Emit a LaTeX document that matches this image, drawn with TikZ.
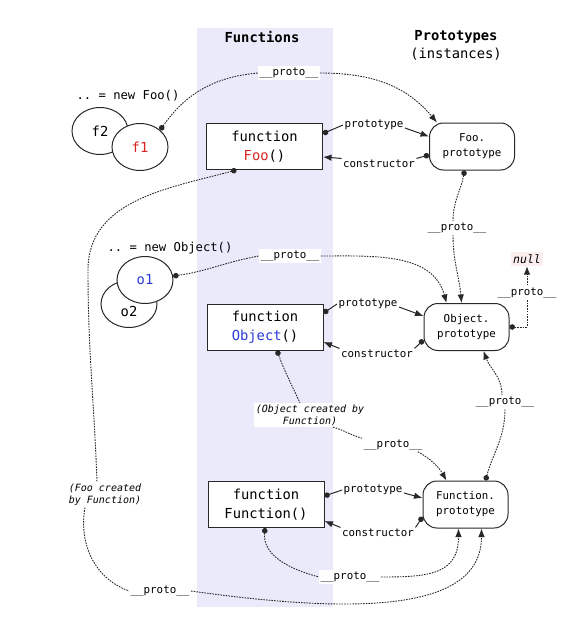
\documentclass[tikz,border=0pt]{standalone}
\usepackage{fontspec}
\setmonofont{DejaVu Sans Mono}
\usepackage{xcolor}
\usetikzlibrary{shapes.geometric,arrows.meta,positioning,calc}

\definecolor{bandblue}{RGB}{234,234,250}
\definecolor{foored}{RGB}{215,35,35}
\definecolor{objblue}{RGB}{40,60,215}
\definecolor{nullbg}{RGB}{252,238,238}
\definecolor{ink}{RGB}{40,40,40}

\begin{document}
\begin{tikzpicture}[
  x=1pt, y=-1pt,
  fnbox/.style={rectangle, draw=ink, line width=1pt, fill=white, minimum width=116pt,
                minimum height=46pt, inner sep=0pt, align=center,
                font=\ttfamily\fontsize{13.8}{19}\selectfont},
  protobox/.style={rectangle, draw=ink, line width=1pt, rounded corners=14pt, fill=white,
                minimum width=85pt, minimum height=47pt, inner sep=0pt, align=center,
                font=\ttfamily\fontsize{10.8}{15}\selectfont},
  inst/.style={ellipse, draw=ink, line width=1pt, fill=white, minimum width=56pt,
                minimum height=47pt, inner sep=0pt, font=\ttfamily\fontsize{13.8}{19}\selectfont},
  lbl/.style={fill=white, inner sep=1.5pt, font=\ttfamily\fontsize{10.8}{13}\selectfont},
  caption/.style={inner sep=1pt, font=\ttfamily\fontsize{12.2}{14}\selectfont},
  remark/.style={fill=white, inner sep=1.5pt, align=center,
                font=\ttfamily\itshape\fontsize{10}{12}\selectfont},
  title/.style={align=center, font=\ttfamily\fontsize{13.8}{18}\selectfont},
  nullbox/.style={fill=nullbg, inner sep=2.5pt, font=\ttfamily\itshape\fontsize{11.5}{13}\selectfont},
  solidlink/.style={draw=ink, line width=1pt},
  dotlink/.style={draw=ink, line width=0.9pt, dash pattern=on 1.6pt off 1.1pt},
  fromdot/.style={{Circle[length=5.5pt]}-},
  totip/.style={-{Latex[length=8.5pt,width=6.5pt]}},
  dottip/.style={{Circle[length=5.5pt]}-{Latex[length=8.5pt,width=6.5pt]}}
]
  \useasboundingbox (0,0) rectangle (561,618);
  % functions column
  \fill[bandblue] (197,28) rectangle (333,607);

  \node[title] (hfun)   at (262,37) {\textbf{Functions}};
  \node[title] (hproto) at (456,45) {\textbf{Prototypes}\\(instances)};

  % instances
  \node[caption] (newfoo) at (128,96) {.. = new Foo()};
  \node[inst] (f2) at (100,131) {f2};
  \node[inst, text=foored] (f1) at (140,147) {f1};

  \node[caption] (newobj) at (170,248) {.. = new Object()};
  \node[inst, text height=25pt] (o2) at (129,304) {o2};
  \node[inst, text=objblue] (o1) at (145,280) {o1};

  % constructors and their prototypes
  \node[fnbox] (fnfoo) at (264.5,146.5) {function\\\textcolor{foored}{Foo}()};
  \node[fnbox] (fnobj) at (265,327)     {function\\\textcolor{objblue}{Object}()};
  \node[fnbox] (fnfun) at (266,504.5)   {function\\Function()};

  \node[protobox, right=106pt of fnfoo] (fooproto) {Foo.\\prototype};
  \node[protobox, right=100pt of fnobj] (objproto) {Object.\\prototype};
  \node[protobox, right=98pt of fnfun]  (funproto) {Function.\\prototype};

  \node[lbl] (ptfoo) at (374,125) {prototype};
  \node[lbl] (ctfoo) at (379,164) {constructor};
  \node[lbl] (ptobj) at (368,304) {prototype};
  \node[lbl] (ctobj) at (377,354) {constructor};
  \node[lbl] (ptfun) at (373,490) {prototype};
  \node[lbl] (ctfun) at (378,533) {constructor};

  \draw[solidlink, fromdot] ([yshift=13pt]fnfoo.east) -- (ptfoo.west);
  \draw[solidlink, totip]   ([yshift=-3pt]ptfoo.east) -- ([yshift=10pt]fooproto.west);
  \draw[solidlink, fromdot] ([yshift=-8.5pt]fooproto.west) -- (ctfoo.north east);
  \draw[solidlink, totip]   (ctfoo.north west) -- ([yshift=-10.5pt]fnfoo.east);

  \draw[solidlink, fromdot] ([yshift=14pt]fnobj.east) -- (ptobj.west);
  \draw[solidlink, totip]   ([yshift=-3pt]ptobj.east) -- ([yshift=11pt]objproto.west);
  \draw[solidlink, fromdot] ([yshift=-13pt]objproto.west) -- (ctobj.north east);
  \draw[solidlink, totip]   (ctobj.north west) -- ([yshift=-15pt]fnobj.east);

  \draw[solidlink, fromdot] ([yshift=8.5pt]fnfun.east) -- (ptfun.west);
  \draw[solidlink, totip]   ([yshift=-3pt]ptfun.east) -- ([yshift=6.5pt]funproto.west);
  \draw[solidlink, fromdot] ([yshift=-12.5pt]funproto.west) -- (ctfun.north east);
  \draw[solidlink, totip]   (ctfun.north west) -- ([yshift=-16.5pt]fnfun.east);

  % __proto__ chains
  \node[lbl] (pfoo)    at (289,73)  {\_\_proto\_\_};
  \node[lbl] (pfooobj) at (457,228) {\_\_proto\_\_};
  \node[lbl] (pobj)    at (290,256) {\_\_proto\_\_};
  \node[lbl] (pobjfun) at (393,445) {\_\_proto\_\_};
  \node[lbl] (pfunobj) at (505,402) {\_\_proto\_\_};
  \node[lbl] (pfunfun) at (350,577) {\_\_proto\_\_};
  \node[lbl] (pfoofun) at (160,591) {\_\_proto\_\_};
  \node[nullbox] (null) at (527,259) {null};
  \node[remark] (objnote) at (310,415) {(Object created by\\Function)};
  \node[remark] (foonote) at (105,495) {(Foo created\\by Function)};
  \coordinate (foobend) at (88,270);

  \draw[dotlink, fromdot] (f1.40) to[out=55,in=185] (pfoo.west);
  \draw[dotlink, totip] (pfoo.east) to[out=0,in=130] ([xshift=8pt]fooproto.north west);

  \draw[dotlink, fromdot] ([xshift=-7.5pt]fooproto.south) to[out=-100,in=90] ([xshift=-4pt]pfooobj.north);
  \draw[dotlink, totip] ([xshift=-4pt]pfooobj.south) to[out=-90,in=95] ([xshift=-5pt]objproto.north);

  \draw[dotlink, fromdot] (o1.8) to[out=8,in=190] (pobj.west);
  \draw[dotlink, totip] (pobj.east) to[out=0,in=105] ([xshift=-20pt]objproto.north);

  \draw[dotlink, dottip] (objproto.east) -| node[lbl, pos=0.78] (pnull) {\_\_proto\_\_} (null.south);

  \draw[dotlink, fromdot] ([xshift=12pt]fnobj.south) to[out=-70,in=115] ([xshift=-10pt]objnote.north);
  \draw[dotlink] ([xshift=23pt]objnote.south) to[out=-15,in=165] (pobjfun.north west);
  \draw[dotlink, totip] ([xshift=-6pt]pobjfun.south east) to[out=-30,in=120] ([xshift=-19pt]funproto.north);

  \draw[dotlink, fromdot] ([xshift=20pt]funproto.north) to[out=75,in=-90] (pfunobj.south);
  \draw[dotlink, totip] ([xshift=-3pt]pfunobj.north) to[out=90,in=-70] ([xshift=17pt]objproto.south);

  \draw[dotlink, fromdot] ([xshift=-1pt]fnfun.south) to[out=-95,in=165] (pfunfun.west);
  \draw[dotlink, totip] (pfunfun.east) to[out=0,in=-90,looseness=1.3] ([xshift=-7pt]funproto.south);

  \draw[dotlink, fromdot] ([xshift=-28pt]fnfoo.south) to[out=195,in=90] (foobend)
    to[out=-90,in=92] ([xshift=-8pt]foonote.north);
  \draw[dotlink] ([xshift=-20pt]foonote.south) to[out=-100,in=160] (pfoofun.west);
  \draw[dotlink, totip] (pfoofun.east) .. controls +(-8:180pt) and +(-90:80pt) .. ([xshift=16pt]funproto.south);
\end{tikzpicture}
\end{document}
